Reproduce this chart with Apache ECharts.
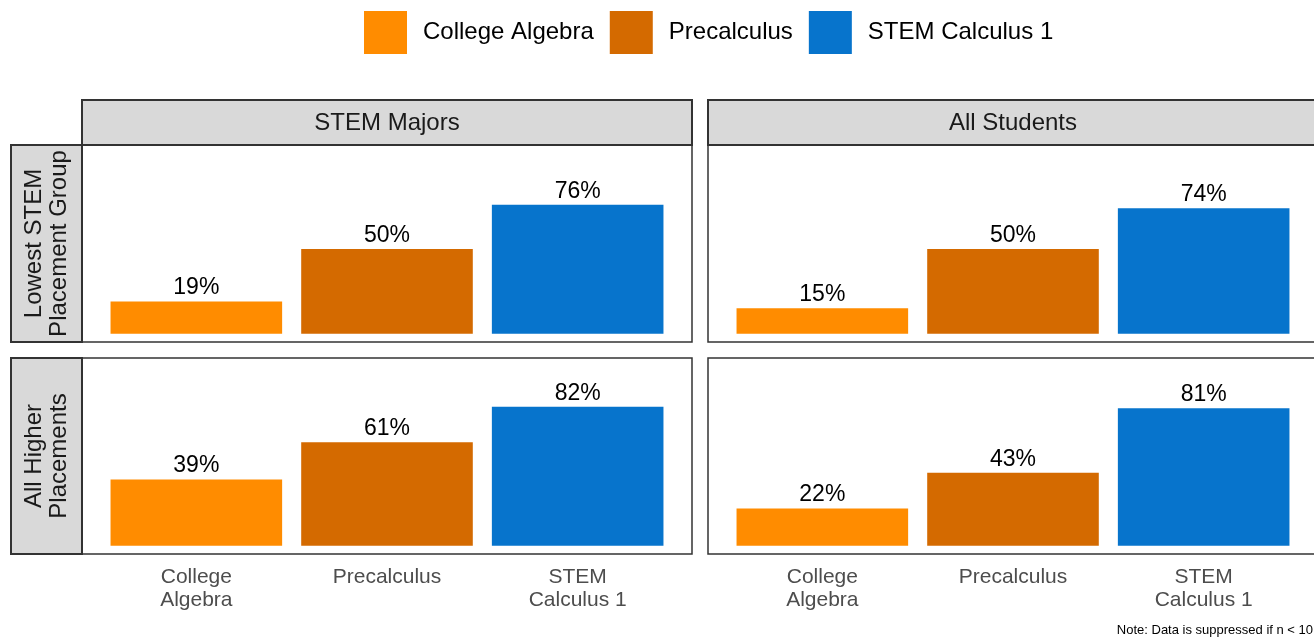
<!DOCTYPE html>
<html>
<head>
<meta charset="utf-8">
<script src="https://cdn.jsdelivr.net/npm/echarts@6/dist/echarts.min.js"></script>
<style>
  html, body { margin: 0; padding: 0; background: #fff; }
  #chart { width: 1314px; height: 637px; }
</style>
</head>
<body>
<div id="chart"></div>
<script>
// data
const categories = ['College Algebra', 'Precalculus', 'STEM Calculus 1'];
const tickLabels = ['College\nAlgebra', 'Precalculus', 'STEM\nCalculus 1'];
const colGroups = ['STEM Majors', 'All Students'];
const rowGroups = ['Lowest STEM\nPlacement Group', 'All Higher\nPlacements'];
const stemLowest = [19, 50, 76];
const allLowest = [15, 50, 74];
const stemHigher = [39, 61, 82];
const allHigher = [22, 43, 81];
const panelValues = [stemLowest, allLowest, stemHigher, allHigher];
const colors = ['#FF8C00', '#D46A00', '#0774CC'];

const font = '"Liberation Sans", Arial, sans-serif';

// layout of the facet panels
const panelX = [82, 708], panelW = 610;
const panelY = [145, 358], panelH = [197, 196];
const inset = 19; // ggplot discrete expansion
const yRange = [[-4.9, 111.3], [-4.9, 110.7]];

let grids = [], xAxes = [], yAxes = [], series = [], graphic = [];

panelValues.forEach((vals, p) => {
	let r = Math.floor(p / 2), c = p % 2;
	grids.push({
		left: panelX[c] + inset,
		top: panelY[r],
		width: panelW - 2 * inset,
		height: panelH[r]
	});
	xAxes.push({
		type: 'category',
		gridIndex: p,
		data: tickLabels,
		axisLine: { show: false },
		axisTick: { show: false },
		axisLabel: {
			show: r === 1,
			margin: 12,
			fontFamily: font,
			fontSize: 21,
			lineHeight: 23,
			color: '#4d4d4d'
		}
	});
	yAxes.push({
		type: 'value',
		gridIndex: p,
		min: yRange[r][0],
		max: yRange[r][1],
		show: false,
		splitLine: { show: false }
	});
	categories.forEach((name, i) => {
		series.push({
			type: 'bar',
			name,
			xAxisIndex: p,
			yAxisIndex: p,
			stack: 'p' + p,
			barWidth: '90%',
			itemStyle: { color: colors[i] },
			label: {
				show: true,
				position: 'top',
				distance: 2,
				formatter: '{c}%',
				fontFamily: font,
				fontSize: 23,
				color: '#000'
			},
			data: vals.map((v, j) => (j === i ? v : '-'))
		});
	});
});

// strips and panel borders
colGroups.forEach((t, c) => {
	graphic.push({
		type: 'rect',
		shape: { x: panelX[c], y: 100, width: panelW, height: 45 },
		style: { fill: '#d9d9d9', stroke: '#333', lineWidth: 2 }
	});
	graphic.push({
		type: 'text',
		x: panelX[c] + panelW / 2,
		y: 123,
		style: { text: t, fill: '#1a1a1a', font: '24px ' + font, textAlign: 'center', textVerticalAlign: 'middle' }
	});
});
rowGroups.forEach((t, r) => {
	graphic.push({
		type: 'rect',
		shape: { x: 11, y: panelY[r], width: 71, height: panelH[r] },
		style: { fill: '#d9d9d9', stroke: '#333', lineWidth: 2 }
	});
	graphic.push({
		type: 'text',
		x: 46.5,
		y: panelY[r] + panelH[r] / 2,
		rotation: Math.PI / 2,
		style: { text: t, fill: '#1a1a1a', font: '24px ' + font, lineHeight: 25, textAlign: 'center', textVerticalAlign: 'middle' }
	});
});
panelY.forEach((y, r) => {
	panelX.forEach(x => {
		graphic.push({
			type: 'rect',
			shape: { x, y, width: panelW, height: panelH[r] },
			style: { fill: 'none', stroke: '#333', lineWidth: 1.5 },
			z: 10
		});
	});
});
graphic.push({
	type: 'text',
	x: 1313,
	y: 630,
	style: { text: 'Note: Data is suppressed if n < 10', fill: '#000', font: '13px ' + font, textAlign: 'right', textVerticalAlign: 'middle' }
});

let chart = echarts.init(document.getElementById('chart'));
chart.setOption({
	animation: false,
	legend: {
		data: categories,
		top: 6,
		left: 359,
		icon: 'rect',
		itemWidth: 43,
		itemHeight: 43,
		itemGap: 16,
		textStyle: {
			fontFamily: font,
			fontSize: 24,
			color: '#000',
			padding: [0, 0, 0, 11]
		}
	},
	grid: grids,
	xAxis: xAxes,
	yAxis: yAxes,
	series,
	graphic
});
</script>
</body>
</html>
